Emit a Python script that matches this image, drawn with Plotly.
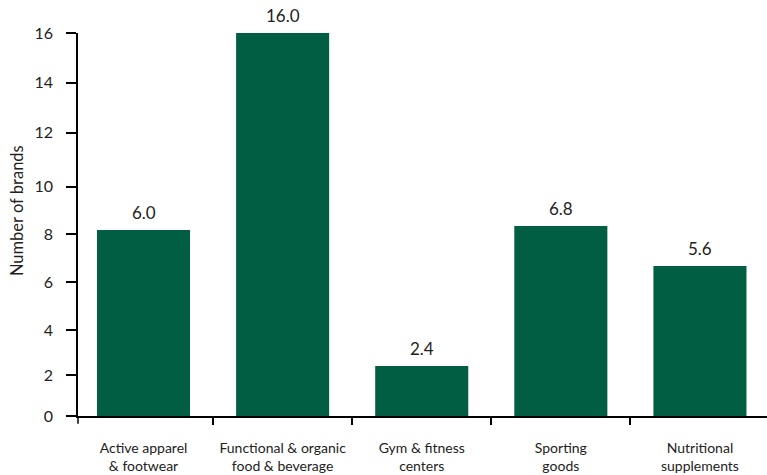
import plotly.graph_objects as go

categories = ["Active apparel<br>& footwear", "Functional & organic<br>food & beverage",
              "Gym & fitness<br>centers", "Sporting<br>goods", "Nutritional<br>supplements"]
bar_heights = [7.77, 16.0, 2.09, 7.94, 6.27]
value_labels = ["6.0", "16.0", "2.4", "6.8", "5.6"]
ytick_vals = [0, 1.713, 3.580, 5.585, 7.603, 9.579, 11.835, 13.924, 16]
ytick_text = ["0", "2", "4", "6", "8", "10", "12", "14", "16"]
y_title = "Number of brands"

BAR = "#025e43"
FONT = "Lato"
TXT = "#222222"

fig = go.Figure(go.Bar(x=categories, y=bar_heights, marker_color=BAR, marker_line_width=0))

for c, h, t in zip(categories, bar_heights, value_labels):
    fig.add_annotation(x=c, y=h, text=t, showarrow=False, yanchor="bottom", yshift=5,
                       font=dict(family=FONT, size=17, color=TXT))

# y-axis title
fig.add_annotation(text=y_title, xref="paper", yref="paper", x=-0.0885, y=0.535,
                   xanchor="center", yanchor="middle", textangle=-90, showarrow=False,
                   font=dict(family=FONT, size=16.5, color=TXT))

# small extension of the y axis below the x axis
fig.add_shape(type="line", xref="paper", yref="paper", x0=0, x1=0, y0=0, y1=-0.02,
              line=dict(color="black", width=1.5))

fig.update_layout(
    width=767, height=475,
    margin=dict(l=78, r=0, t=33, b=59),
    plot_bgcolor="white", paper_bgcolor="white",
    bargap=0.331, showlegend=False,
    font=dict(family=FONT, color=TXT),
)
fig.update_xaxes(
    range=[-0.471, 4.482], showline=True, linecolor="black", linewidth=1.5,
    tickson="boundaries", ticks="outside", ticklen=7, tickcolor="black", tickwidth=1.5,
    tickfont=dict(family=FONT, size=14, color=TXT), showgrid=False, zeroline=False,
    ticklabelstandoff=18,
)
fig.update_yaxes(
    range=[0, 16], tickmode="array", tickvals=ytick_vals, ticktext=ytick_text,
    showline=True, linecolor="black", linewidth=1.5, ticks="outside", ticklen=10,
    tickcolor="black", tickwidth=1.5, showgrid=False, zeroline=False,
    tickfont=dict(family=FONT, size=16, color=TXT), ticklabelstandoff=10,
)

fig.write_html("out.html")
